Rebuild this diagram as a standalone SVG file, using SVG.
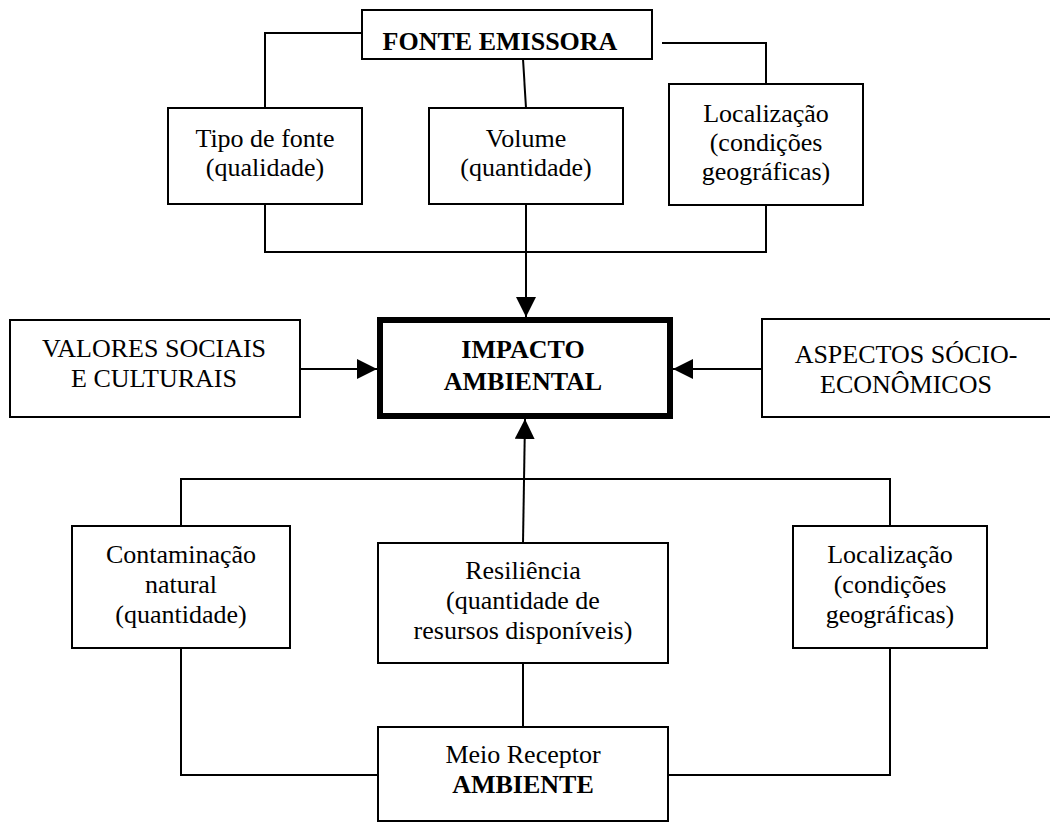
<svg xmlns="http://www.w3.org/2000/svg" width="1050" height="823" viewBox="0 0 1050 823">
<style>
  .box { fill: #fff; stroke: #000; stroke-width: 2; }
  .thick { fill: #fff; stroke: #000; stroke-width: 6; }
  .t { font-family: "Liberation Serif", "Times New Roman", serif; font-size: 26px; fill: #000; text-anchor: middle; }
  .b { font-weight: bold; }
  .c { fill: none; stroke: #000; stroke-width: 2; }
</style>
<defs>
  <marker id="arr" markerUnits="userSpaceOnUse" markerWidth="20" markerHeight="20" viewBox="0 0 20 20" refX="20" refY="10" orient="auto">
    <path d="M0,0 L20,10 L0,20 Z" fill="#000"/>
  </marker>
</defs>
<rect width="1050" height="823" fill="#fff"/>
<g id="connectors">
  <polyline class="c" points="362,33 265,33 265,108"/>
  <line class="c" x1="523" y1="59" x2="526" y2="108"/>
  <polyline class="c" points="662,43 766,43 766,84"/>
  <polyline class="c" points="265,204 265,252 766,252 766,205"/>
  <line class="c" x1="526" y1="204" x2="526" y2="317" marker-end="url(#arr)"/>
  <line class="c" x1="300" y1="369" x2="377" y2="369" marker-end="url(#arr)"/>
  <line class="c" x1="762" y1="369" x2="673" y2="369" marker-end="url(#arr)"/>
  <line class="c" x1="523" y1="543" x2="525" y2="419" marker-end="url(#arr)"/>
  <polyline class="c" points="181,526 181,479 890,479 890,526"/>
  <polyline class="c" points="181,648 181,775 378,775"/>
  <polyline class="c" points="668,775 890,775 890,648"/>
  <line class="c" x1="523" y1="663" x2="523" y2="727"/>
</g>
<g id="fonte">
  <rect class="box" x="362" y="10" width="290" height="49"/>
  <text class="t b" x="500" y="50">FONTE EMISSORA</text>
</g>
<g id="tipo">
  <rect class="box" x="168" y="108" width="194" height="96"/>
  <text class="t" x="265" y="147">Tipo de fonte</text>
  <text class="t" x="265" y="176">(qualidade)</text>
</g>
<g id="volume">
  <rect class="box" x="429" y="108" width="194" height="96"/>
  <text class="t" x="526" y="147">Volume</text>
  <text class="t" x="526" y="176">(quantidade)</text>
</g>
<g id="localizacao1">
  <rect class="box" x="669" y="84" width="194" height="121"/>
  <text class="t" x="766" y="122">Localização</text>
  <text class="t" x="766" y="151">(condições</text>
  <text class="t" x="766" y="180">geográficas)</text>
</g>
<g id="impacto">
  <rect class="thick" x="380" y="320" width="290" height="96"/>
  <text class="t b" x="523" y="358">IMPACTO</text>
  <text class="t b" x="523" y="390">AMBIENTAL</text>
</g>
<g id="valores">
  <rect class="box" x="10" y="320" width="290" height="97"/>
  <text class="t" x="154" y="357">VALORES SOCIAIS</text>
  <text class="t" x="154" y="387">E CULTURAIS</text>
</g>
<g id="aspectos">
  <rect class="box" x="762" y="319" width="292" height="98"/>
  <text class="t" x="906" y="363">ASPECTOS SÓCIO-</text>
  <text class="t" x="906" y="393">ECONÔMICOS</text>
</g>
<g id="contaminacao">
  <rect class="box" x="72" y="526" width="218" height="122"/>
  <text class="t" x="181" y="563">Contaminação</text>
  <text class="t" x="181" y="593">natural</text>
  <text class="t" x="181" y="623">(quantidade)</text>
</g>
<g id="resiliencia">
  <rect class="box" x="378" y="543" width="290" height="120"/>
  <text class="t" x="523" y="579">Resiliência</text>
  <text class="t" x="523" y="609">(quantidade de</text>
  <text class="t" x="523" y="639">resursos disponíveis)</text>
</g>
<g id="localizacao2">
  <rect class="box" x="793" y="526" width="194" height="122"/>
  <text class="t" x="890" y="563">Localização</text>
  <text class="t" x="890" y="593">(condições</text>
  <text class="t" x="890" y="623">geográficas)</text>
</g>
<g id="meio">
  <rect class="box" x="378" y="727" width="290" height="94"/>
  <text class="t" x="523" y="763">Meio Receptor</text>
  <text class="t b" x="523" y="793">AMBIENTE</text>
</g>
</svg>
